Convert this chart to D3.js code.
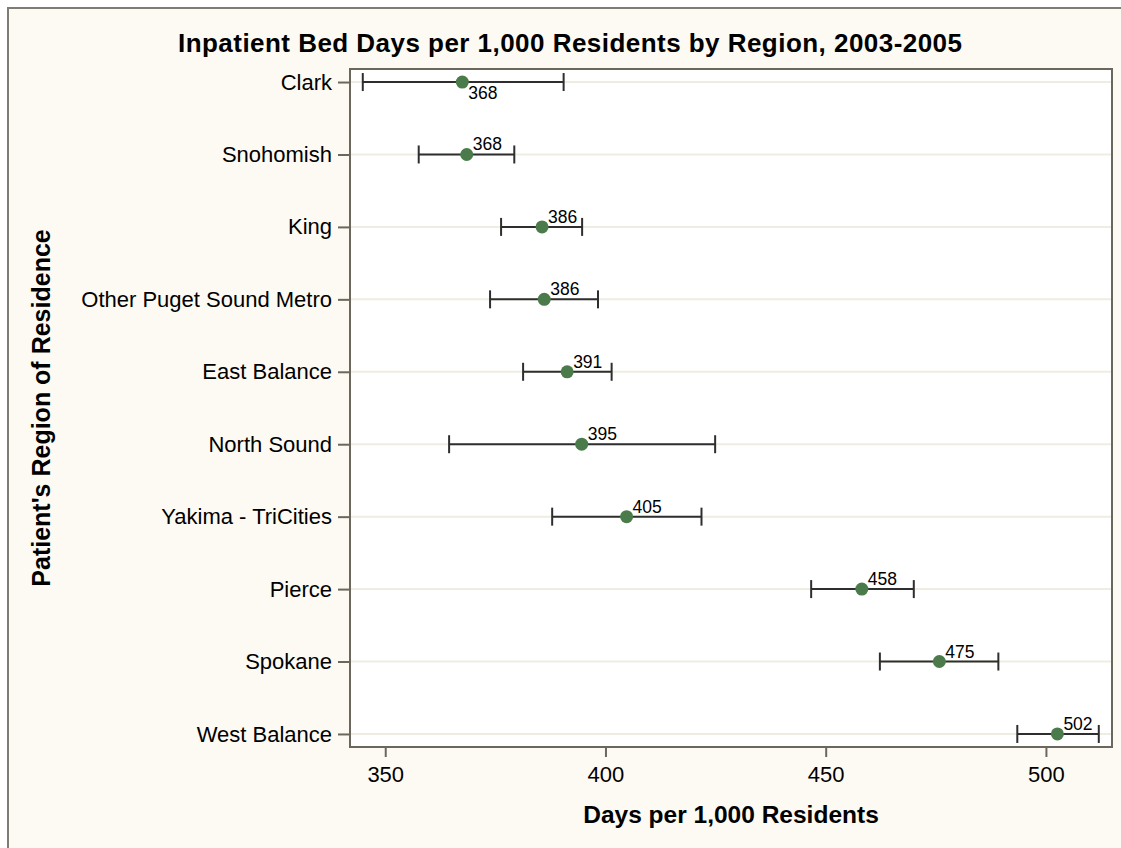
<!DOCTYPE html>
<html>
<head>
<meta charset="utf-8">
<script src="https://cdn.jsdelivr.net/npm/d3@7"></script>
<style>
  html, body { margin: 0; padding: 0; background: #ffffff; }
  svg { display: block; font-family: "Liberation Sans", Arial, Helvetica, sans-serif; }
</style>
</head>
<body>
<svg id="chart" width="1121" height="848"></svg>
<script>
// ---- data ----
const regions = ["Clark", "Snohomish", "King", "Other Puget Sound Metro", "East Balance",
                 "North Sound", "Yakima - TriCities", "Pierce", "Spokane", "West Balance"];
const rates = [367.5, 368.5, 385.6, 386.1, 391.3, 394.6, 404.8, 458.2, 475.8, 502.6];
const lowerCI = [344.9, 357.6, 376.3, 373.8, 381.3, 364.5, 387.9, 446.7, 462.3, 493.5];
const upperCI = [390.5, 379.3, 394.7, 398.3, 401.4, 424.9, 421.8, 470.0, 489.2, 512.0];
const rateLabels = ["368", "368", "386", "386", "391", "395", "405", "458", "475", "502"];
const labelSide = ["below", "above", "above", "above", "above", "above", "above", "above", "above", "above"];
const xTicks = [350, 400, 450, 500];
const xDomain = [342, 515];

const title = "Inpatient Bed Days per 1,000 Residents by Region, 2003-2005";
const xTitle = "Days per 1,000 Residents";
const yTitle = "Patient's Region of Residence";

// ---- layout ----
const svg = d3.select("#chart");
const W = 1121, H = 848;
const plot = { left: 350, right: 1112, top: 69, bottom: 747 };
const axisColor = "#6b675c";
const fontFam = "'Liberation Sans', Arial, sans-serif";

// outer frame
svg.append("rect").attr("x", 0).attr("y", 0).attr("width", W).attr("height", H).attr("fill", "#ffffff");
svg.append("rect").attr("x", 8).attr("y", 8).attr("width", W + 40).attr("height", H + 40)
  .attr("fill", "#fdfaf3").attr("stroke", "#7f7c74").attr("stroke-width", 2);

const x = d3.scaleLinear().domain(xDomain).range([plot.left, plot.right]);
const y = d3.scalePoint().domain(regions).range([plot.top, plot.bottom]).padding(0.18);

// plot background
svg.append("rect").attr("x", plot.left).attr("y", plot.top)
  .attr("width", plot.right - plot.left).attr("height", plot.bottom - plot.top)
  .attr("fill", "#ffffff");

// gridlines
svg.append("g").selectAll("line").data(regions).join("line")
  .attr("x1", plot.left).attr("x2", plot.right)
  .attr("y1", d => y(d)).attr("y2", d => y(d))
  .attr("stroke", "#efede2").attr("stroke-width", 2);

// x axis
const xAxis = svg.append("g").attr("transform", `translate(0,${plot.bottom})`)
  .call(d3.axisBottom(x).tickValues(xTicks).tickSize(10).tickPadding(9).tickFormat(d3.format("d")));
xAxis.select(".domain").remove();
xAxis.selectAll(".tick line").attr("stroke", axisColor).attr("stroke-width", 2);
xAxis.selectAll(".tick text").attr("font-size", 22).attr("fill", "#000")
  .attr("font-family", fontFam);

// y axis
const yAxis = svg.append("g").attr("transform", `translate(${plot.left},0)`)
  .call(d3.axisLeft(y).tickSize(12).tickPadding(6));
yAxis.select(".domain").remove();
yAxis.selectAll(".tick line").attr("stroke", axisColor).attr("stroke-width", 2);
yAxis.selectAll(".tick text").attr("font-size", 22).attr("fill", "#000")
  .attr("font-family", fontFam);

// plot border
svg.append("rect").attr("x", plot.left).attr("y", plot.top)
  .attr("width", plot.right - plot.left).attr("height", plot.bottom - plot.top)
  .attr("fill", "none").attr("stroke", axisColor).attr("stroke-width", 2);

// error bars
const rows = regions.map((r, i) => ({ r, v: rates[i], lo: lowerCI[i], hi: upperCI[i], lab: rateLabels[i], side: labelSide[i] }));
const capH = 9;
const eb = svg.append("g").attr("stroke", "#2e2e2e").attr("stroke-width", 2);
eb.selectAll("line.bar").data(rows).join("line").attr("class", "bar")
  .attr("x1", d => x(d.lo)).attr("x2", d => x(d.hi))
  .attr("y1", d => y(d.r)).attr("y2", d => y(d.r));
eb.selectAll("line.lo").data(rows).join("line").attr("class", "lo")
  .attr("x1", d => x(d.lo)).attr("x2", d => x(d.lo))
  .attr("y1", d => y(d.r) - capH).attr("y2", d => y(d.r) + capH);
eb.selectAll("line.hi").data(rows).join("line").attr("class", "hi")
  .attr("x1", d => x(d.hi)).attr("x2", d => x(d.hi))
  .attr("y1", d => y(d.r) - capH).attr("y2", d => y(d.r) + capH);

// points
svg.append("g").selectAll("circle").data(rows).join("circle")
  .attr("cx", d => x(d.v)).attr("cy", d => y(d.r)).attr("r", 6.5)
  .attr("fill", "#4b7b4b");

// value labels
svg.append("g").selectAll("text").data(rows).join("text")
  .attr("x", d => x(d.v) + 6)
  .attr("y", d => d.side === "below" ? y(d.r) + 17 : y(d.r) - 4)
  .attr("font-size", 17.5).attr("fill", "#000")
  .text(d => d.lab);

// titles
svg.append("text").attr("x", 570).attr("y", 52).attr("text-anchor", "middle")
  .attr("font-size", 26).attr("font-weight", "bold")
  .attr("textLength", 784).attr("lengthAdjust", "spacing").text(title);
svg.append("text").attr("x", (plot.left + plot.right) / 2).attr("y", 823).attr("text-anchor", "middle")
  .attr("font-size", 24.5).attr("font-weight", "bold").text(xTitle);
svg.append("text").attr("transform", `translate(50,${(plot.top + plot.bottom) / 2}) rotate(-90)`)
  .attr("text-anchor", "middle")
  .attr("font-size", 25).attr("font-weight", "bold").text(yTitle);
</script>
</body>
</html>
